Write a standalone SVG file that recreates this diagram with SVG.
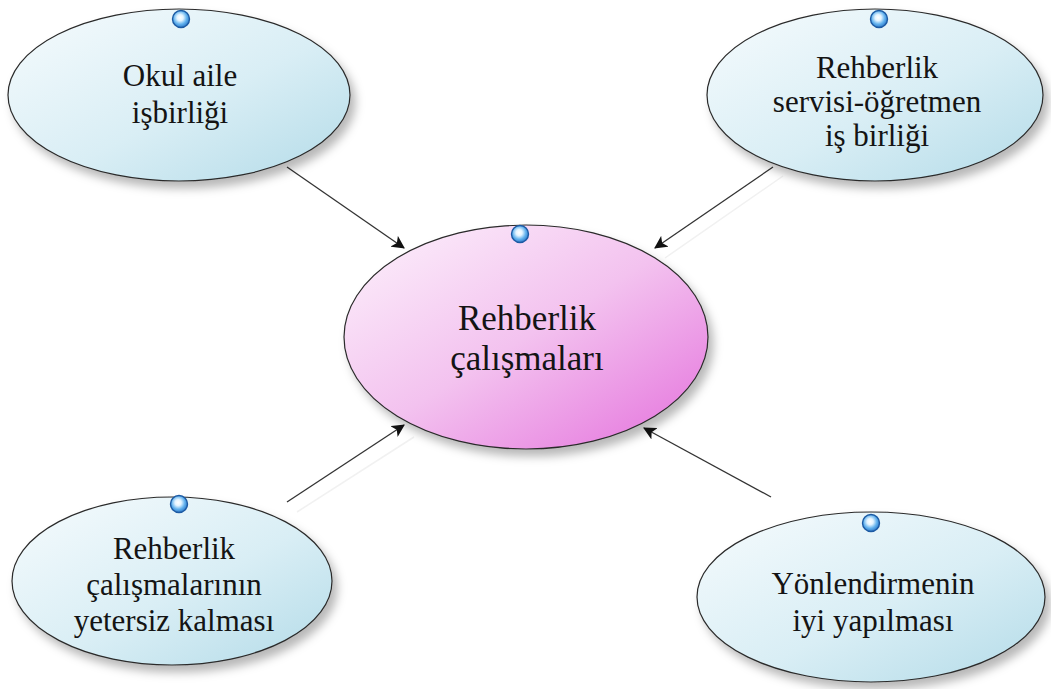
<svg xmlns="http://www.w3.org/2000/svg" width="1051" height="689" viewBox="0 0 1051 689">
  <defs>
    <linearGradient id="blueFill" x1="0" y1="0" x2="1" y2="1">
      <stop offset="0" stop-color="#f6fbfd"/>
      <stop offset="0.55" stop-color="#d9eef5"/>
      <stop offset="1" stop-color="#b3dbe8"/>
    </linearGradient>
    <linearGradient id="pinkFill" x1="0" y1="0" x2="1" y2="1">
      <stop offset="0" stop-color="#fdf3fc"/>
      <stop offset="0.5" stop-color="#f3c2ef"/>
      <stop offset="1" stop-color="#e46fdc"/>
    </linearGradient>
    <radialGradient id="dotFill" cx="0.45" cy="0.42" r="0.6">
      <stop offset="0" stop-color="#ffffff"/>
      <stop offset="0.3" stop-color="#e4f4ff"/>
      <stop offset="0.65" stop-color="#62b2ee"/>
      <stop offset="1" stop-color="#2a74c6"/>
    </radialGradient>
    <filter id="shadow" x="-20%" y="-20%" width="150%" height="150%">
      <feDropShadow dx="5" dy="7" stdDeviation="5" flood-color="#000" flood-opacity="0.28"/>
    </filter>
    <marker id="arrow" viewBox="0 0 12 12" refX="11" refY="6" markerWidth="13" markerHeight="13" markerUnits="userSpaceOnUse" orient="auto">
      <path d="M0,0 L12,6 L0,12 L3,6 Z" fill="#111"/>
    </marker>
  </defs>
  <style>
    .node { stroke: #2a2a2a; stroke-width: 1.2; filter: url(#shadow); }
    .blue { fill: url(#blueFill); }
    .pink { fill: url(#pinkFill); }
    .dot { fill: url(#dotFill); stroke: #1c5aa3; stroke-width: 1.4; }
    .label { font-size: 31px; fill: #141414; text-anchor: middle; }
    .big { font-size: 35px; }
    .link { stroke: #333; stroke-width: 1.3; fill: none; marker-end: url(#arrow); }
    .ghost { stroke: #f1f1f1; stroke-width: 1.5; fill: none; }
  </style>

  <g id="connectors">
    <line class="ghost" x1="297" y1="512" x2="414" y2="437"/>
    <line class="ghost" x1="783" y1="176" x2="665" y2="258"/>
    <line class="link" x1="287" y1="167" x2="404" y2="248"/>
    <line class="link" x1="773" y1="167" x2="655" y2="248"/>
    <line class="link" x1="287" y1="502" x2="404" y2="425"/>
    <line class="link" x1="771" y1="497" x2="644" y2="428"/>
  </g>

  <g font-family="Liberation Serif, DejaVu Serif, serif">
    <g id="okul-aile">
      <ellipse class="node blue" cx="179" cy="95" rx="171" ry="86"/>
      <circle class="dot" cx="181" cy="19" r="8.5"/>
      <text class="label" x="180" y="86">Okul aile</text>
      <text class="label" x="180" y="123">işbirliği</text>
    </g>

    <g id="servis-ogretmen">
      <ellipse class="node blue" cx="875" cy="95" rx="168" ry="86"/>
      <circle class="dot" cx="879" cy="19" r="8.5"/>
      <text class="label" x="877" y="78">Rehberlik</text>
      <text class="label" x="877" y="112">servisi-öğretmen</text>
      <text class="label" x="877" y="146">iş birliği</text>
    </g>

    <g id="rehberlik-calismalari">
      <ellipse class="node pink" cx="526" cy="337" rx="182" ry="112"/>
      <circle class="dot" cx="520" cy="234" r="8.5"/>
      <text class="label big" x="527" y="330">Rehberlik</text>
      <text class="label big" x="527" y="370">çalışmaları</text>
    </g>

    <g id="yetersiz">
      <ellipse class="node blue" cx="172" cy="581" rx="160" ry="84"/>
      <circle class="dot" cx="179" cy="504" r="8.5"/>
      <text class="label" x="174" y="559">Rehberlik</text>
      <text class="label" x="174" y="595">çalışmalarının</text>
      <text class="label" x="174" y="631">yetersiz kalması</text>
    </g>

    <g id="yonlendirme">
      <ellipse class="node blue" cx="871" cy="597" rx="174" ry="85"/>
      <circle class="dot" cx="871" cy="523" r="8.5"/>
      <text class="label" x="873" y="594">Yönlendirmenin</text>
      <text class="label" x="873" y="631">iyi yapılması</text>
    </g>
  </g>
</svg>
